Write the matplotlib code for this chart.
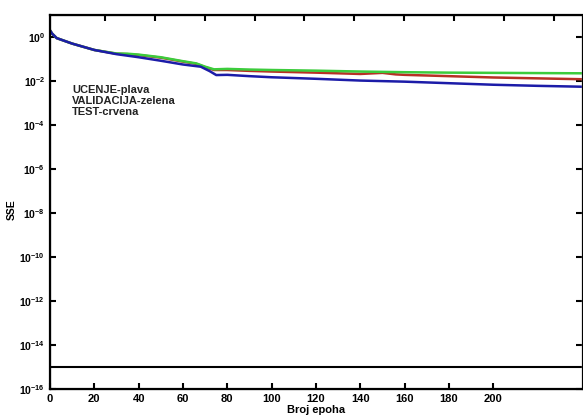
import matplotlib.pyplot as plt
import numpy as np

# epochs and log10(SSE)
ep_ucenje = [0, 1, 3, 10, 20, 30, 40, 50, 60, 68, 72, 75, 80, 90, 100, 120, 140, 160, 180, 200, 220, 240]
sse_ucenje = [0.3, 0.15, -0.05, -0.3, -0.59, -0.78, -0.92, -1.08, -1.25, -1.35, -1.55, -1.73, -1.72,
              -1.78, -1.83, -1.9, -1.98, -2.03, -2.1, -2.17, -2.22, -2.26]

ep_valid = [0, 1, 3, 10, 20, 30, 35, 40, 50, 60, 66, 70, 74, 80, 90, 100, 120, 140, 160, 180, 200, 220, 240]
sse_valid = [0.3, 0.15, -0.05, -0.3, -0.59, -0.75, -0.76, -0.8, -0.92, -1.1, -1.2, -1.35, -1.47, -1.45,
             -1.48, -1.5, -1.53, -1.57, -1.6, -1.62, -1.63, -1.64, -1.65]

ep_test = [0, 1, 3, 10, 20, 30, 35, 40, 50, 60, 66, 70, 74, 80, 90, 100, 120, 140, 150, 156, 160, 180, 200, 220, 240]
sse_test = [0.3, 0.15, -0.05, -0.3, -0.59, -0.76, -0.78, -0.82, -0.94, -1.12, -1.22, -1.37, -1.5, -1.5,
            -1.54, -1.57, -1.62, -1.68, -1.63, -1.7, -1.72, -1.78, -1.84, -1.88, -1.92]

goal = 1e-15
legend_text = "UCENJE-plava\nVALIDACIJA-zelena\nTEST-crvena"

plt.rcParams['font.family'] = ['Liberation Sans', 'DejaVu Sans']
plt.rcParams['font.weight'] = 'bold'
plt.rcParams['mathtext.fontset'] = 'custom'
plt.rcParams['mathtext.rm'] = 'Liberation Sans:bold'
plt.rcParams['mathtext.bf'] = 'Liberation Sans:bold'

fig = plt.figure(figsize=(5.83, 4.19), dpi=100)
ax = fig.add_axes([50 / 583, 30 / 419, 532 / 583, 374 / 419])

# red under green, blue on top
ax.semilogy(ep_test, 10 ** np.array(sse_test), color='#b83024', lw=1.8)
ax.semilogy(ep_valid, 10 ** np.array(sse_valid), color='#3ccc3c', lw=1.8)
ax.semilogy(ep_ucenje, 10 ** np.array(sse_ucenje), color='#1c1ca8', lw=1.8)
ax.axhline(goal, color='black', lw=1.5)

ax.set_xlim(0, 240)
ax.set_ylim(1e-16, 1e1)
ax.set_xticks(np.arange(0, 201, 20))
ax.set_yticks([10.0 ** k for k in range(-16, 1, 2)])
ax.set_yticklabels([r'$\mathbf{10^{%d}}$' % k for k in range(-16, 1, 2)])
ax.minorticks_off()
ax.tick_params(direction='in', length=4, width=1.5, labelsize=8)
ax.tick_params(axis='y', right=True, labelsize=7.5)

for s in ['left', 'bottom', 'top']:
    ax.spines[s].set_linewidth(1.6)
ax.spines['right'].set_color('#bbbbbb')
ax.spines['right'].set_linewidth(1.0)
for t in ax.yaxis.get_ticklines()[1::2]:
    t.set_color('#bbbbbb')

# top ticks don't line up with the bottom ones in the original
ax2 = ax.twiny()
ax2.set_xlim(0, 240)
ax2.set_xticks(np.arange(24.8, 235, 22.5))
ax2.set_xticklabels([])
ax2.tick_params(direction='in', length=4, width=1.5)
ax.tick_params(top=False)

ax.set_xlabel('Broj epoha', fontsize=8, fontweight='bold', labelpad=1)
ax.set_ylabel('SSE', fontsize=7.5, fontweight='bold')
ax.yaxis.set_label_coords(-0.062, 0.479)

ax.text(22 / 532, 1 - 70 / 374, legend_text, transform=ax.transAxes, fontsize=8,
        fontweight='bold', va='top', ha='left', linespacing=1.15, color='#222222')

plt.savefig('out.png', dpi=100)
plt.close()
